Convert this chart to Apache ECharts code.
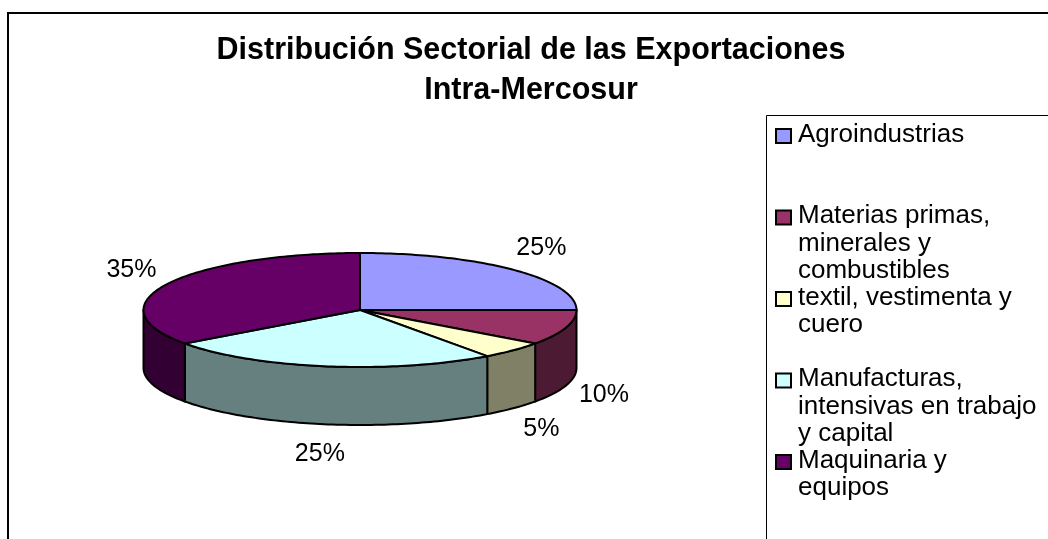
<!DOCTYPE html>
<html>
<head>
<meta charset="utf-8">
<script src="https://cdn.jsdelivr.net/npm/echarts@6/dist/echarts.min.js"></script>
<style>
  html, body { margin: 0; padding: 0; background: #fff; }
  #main { width: 1048px; height: 539px; }
</style>
</head>
<body>
<div id="main"></div>
<script>
// sectores y participación (%) de las exportaciones intra-Mercosur
const sectores = [
  'Agroindustrias',
  'Materias primas, minerales y combustibles',
  'textil, vestimenta y cuero',
  'Manufacturas, intensivas en trabajo y capital',
  'Maquinaria y equipos'
];
const participacion = [25, 10, 5, 25, 35];
const coloresTapa = ['#9999FF', '#993366', '#FFFFCC', '#CCFFFF', '#660066'];
const coloresLado = ['#4D4D80', '#4D1A33', '#808066', '#668080', '#330033'];

const FUENTE = '"Liberation Sans", Arial, sans-serif';

// geometría de la torta 3D
const CX = 360, CY = 310, RX = 216.5, RY = 57, ALTO = 58;

const chart = echarts.init(document.getElementById('main'));

const total = participacion.reduce((a, b) => a + b, 0);
// ángulo de inicio de cada porción (0 = arriba, sentido horario)
const inicio = [];
let acum = 0;
participacion.forEach((v) => {
  inicio.push((acum / total) * Math.PI * 2);
  acum += v;
});

function punto(a, dy) {
  return [CX + RX * Math.sin(a), CY - RY * Math.cos(a) + (dy || 0)];
}
function arco(a0, a1, dy) {
  const pts = [];
  const n = Math.max(2, Math.ceil((a1 - a0) / 0.02));
  for (let k = 0; k <= n; k++) pts.push(punto(a0 + ((a1 - a0) * k) / n, dy));
  return pts;
}

function renderItem(params, api) {
  const i = params.dataIndex;
  const a0 = inicio[i];
  const a1 = a0 + (api.value(0) / total) * Math.PI * 2;
  const children = [];
  // lado visible (mitad delantera, de 90° a 270°)
  const s0 = Math.max(a0, Math.PI / 2);
  const s1 = Math.min(a1, Math.PI * 1.5);
  if (s1 > s0) {
    const pts = arco(s0, s1, 0).concat(arco(s0, s1, ALTO).reverse());
    children.push({
      type: 'polygon', z2: 1,
      shape: { points: pts },
      style: { fill: coloresLado[i], stroke: '#000', lineWidth: 2, lineJoin: 'round' }
    });
  }
  // tapa
  children.push({
    type: 'polygon', z2: 10,
    shape: { points: [[CX, CY]].concat(arco(a0, a1, 0)) },
    style: { fill: coloresTapa[i], stroke: '#000', lineWidth: 2, lineJoin: 'round' }
  });
  // etiqueta de porcentaje
  const m = (a0 + a1) / 2;
  const borde = punto(m, Math.cos(m) < 0 ? ALTO : 0);
  children.push({
    type: 'text', z2: 20,
    x: borde[0] + 40 * Math.sin(m),
    y: borde[1] - 30 * Math.cos(m),
    style: {
      text: Math.round((api.value(0) / total) * 100) + '%',
      fontSize: 25, fontFamily: FUENTE, fill: '#000',
      align: 'center', verticalAlign: 'middle'
    }
  });
  return { type: 'group', children: children };
}

// corta el nombre en renglones que entren en el ancho de la leyenda
const ctx = document.createElement('canvas').getContext('2d');
function cortar(texto, ancho, font) {
  ctx.font = font;
  const lineas = [];
  let actual = '';
  texto.split(' ').forEach((p) => {
    const prueba = actual ? actual + ' ' + p : p;
    if (actual && ctx.measureText(prueba).width > ancho) {
      lineas.push(actual);
      actual = p;
    } else {
      actual = prueba;
    }
  });
  lineas.push(actual);
  return lineas.join('\n');
}

// leyenda (cuadro a la derecha, entradas a paso fijo)
const LEY_Y0 = 128, LEY_PASO = 81.5;
const leyenda = [{
  type: 'rect',
  shape: { x: 766.5, y: 115.5, width: 400, height: 500 },
  style: { fill: '#fff', stroke: '#000', lineWidth: 1 }
}];
sectores.forEach((s, i) => {
  const y = LEY_Y0 + i * LEY_PASO;
  leyenda.push({
    type: 'rect',
    shape: { x: 776, y: y + 1, width: 15, height: 14 },
    style: { fill: coloresTapa[i], stroke: '#000', lineWidth: 2 }
  });
  leyenda.push({
    type: 'text', x: 798, y: y - 7,
    style: {
      text: cortar(s, 243, '26px ' + FUENTE),
      fontSize: 26, lineHeight: 27.5, fontFamily: FUENTE, fill: '#000',
      verticalAlign: 'top'
    }
  });
});

const option = {
  backgroundColor: '#fff',
  animation: false,
  title: {
    text: 'Distribución Sectorial de las Exportaciones\nIntra-Mercosur',
    left: 531,
    top: 31,
    padding: 0,
    textAlign: 'center',
    textStyle: {
      fontSize: 30.5, fontWeight: 'bold', lineHeight: 40,
      fontFamily: FUENTE, color: '#000'
    }
  },
  graphic: [
    {
      type: 'rect', silent: true,
      shape: { x: 8, y: 13, width: 1200, height: 700 },
      style: { fill: 'none', stroke: '#000', lineWidth: 2 }
    },
    { type: 'group', children: leyenda }
  ],
  series: [{
    type: 'custom',
    coordinateSystem: 'none',
    renderItem: renderItem,
    data: participacion
  }]
};

chart.setOption(option);
</script>
</body>
</html>
